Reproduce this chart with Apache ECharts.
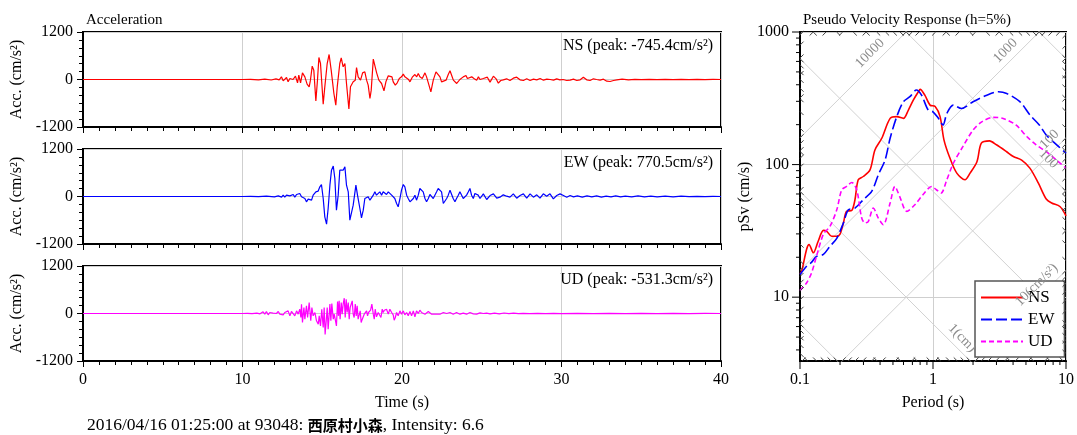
<!DOCTYPE html>
<html>
<head>
<meta charset="utf-8">
<script src="https://cdn.jsdelivr.net/npm/echarts@6/dist/echarts.min.js"></script>
<style>
html, body { margin: 0; padding: 0; background: #fff; }
#chart { width: 1077px; height: 435px; }
</style>
</head>
<body>
<div id="chart"></div>
<script>
// acceleration traces [time (s), acc (cm/s2)]
var nsAcc = [[0,0],[10,0],[10.5,5],[11,-8],[11.4,10],[11.8,-12],[12.1,15],[12.3,-10],[12.44,67],[12.55,-34],[12.76,50],[12.86,-59],[12.97,25],[13.17,0],[13.32,84],[13.45,-84],[13.53,109],[13.64,-84],[13.76,168],[13.91,67],[14.05,-118],[14.18,-185],[14.26,-17],[14.37,337],[14.47,236],[14.6,-539],[14.7,-17],[14.79,556],[14.89,404],[15.06,-623],[15.16,-185],[15.31,404],[15.43,632],[15.56,236],[15.73,-354],[15.85,-648],[15.94,-185],[16.1,404],[16.19,547],[16.31,320],[16.42,404],[16.52,-101],[16.67,-745.4],[16.77,-185],[16.94,-59],[17.07,-17],[17.15,303],[17.25,67],[17.4,-17],[17.53,168],[17.67,194],[17.78,-17],[17.88,-143],[17.99,-480],[18.07,-269],[18.2,514],[18.28,488],[18.41,168],[18.55,-17],[18.72,-101],[18.87,-286],[18.99,-59],[19.14,93],[19.24,84],[19.37,67],[19.45,-59],[19.58,-143],[19.7,-84],[19.83,25],[19.97,67],[20.08,135],[20.18,67],[20.29,25],[20.41,0],[20.5,-59],[20.66,67],[20.81,126],[20.92,67],[21.02,151],[21.12,67],[21.27,25],[21.44,168],[21.54,67],[21.69,-143],[21.81,-312],[21.96,-17],[22.13,194],[22.25,236],[22.38,67],[22.48,-59],[22.59,-101],[22.76,-17],[22.9,126],[23.01,219],[23.11,109],[23.22,-17],[23.32,-59],[23.43,-101],[23.63,0],[23.84,67],[24.01,101],[24.1,25],[24.22,-17],[24.37,67],[24.51,25],[24.68,-17],[24.79,67],[24.89,0],[25.1,25],[25.35,59],[25.52,-67],[25.73,84],[25.9,17],[26.04,-93],[26.19,-25],[26.35,-8],[26.56,17],[26.77,-25],[26.98,34],[27.19,59],[27.4,-8],[27.61,-25],[27.82,17],[28.03,-25],[28.24,8],[28.45,-8],[28.66,25],[28.87,-17],[29.08,8],[29.29,0],[29.5,-17],[29.7,17],[29.9,-8],[30.1,0],[30.33,-25],[30.54,-17],[30.75,8],[30.96,-25],[31.17,-8],[31.37,59],[31.58,-8],[31.79,-25],[32,17],[32.2,0],[32.42,-17],[32.63,8],[32.84,-42],[33.05,-50],[33.26,-25],[33.47,-8],[33.8,8],[34.2,-8],[34.6,5],[35,-5],[35.5,5],[36,-3],[36.5,4],[37,-3],[37.5,3],[38,-2],[38.5,3],[39,-2],[39.5,2],[40,0]];
var ewAcc = [[0,0],[10,0],[10.5,5],[11,-5],[11.5,8],[12,-10],[12.24,17],[12.34,34],[12.45,-17],[12.55,34],[12.65,-17],[12.76,34],[12.86,-8],[12.97,17],[13.07,-25],[13.18,51],[13.28,-17],[13.39,51],[13.49,34],[13.59,76],[13.7,-8],[13.8,8],[13.91,-51],[14.01,-135],[14.12,-67],[14.22,-51],[14.33,-93],[14.43,34],[14.49,-8],[14.6,118],[14.68,76],[14.74,135],[14.85,244],[14.95,303],[15.06,-51],[15.16,-514],[15.27,-699],[15.37,-303],[15.48,286],[15.58,665],[15.69,770.5],[15.79,455],[15.89,-345],[16,34],[16.1,665],[16.21,707],[16.31,665],[16.42,749],[16.52,286],[16.63,118],[16.73,-598],[16.84,-640],[16.94,-219],[17.11,286],[17.21,34],[17.36,-303],[17.46,-539],[17.57,-345],[17.67,-51],[17.78,-51],[17.88,-8],[17.99,-93],[18.09,-51],[18.2,34],[18.3,118],[18.4,34],[18.51,-8],[18.61,118],[18.72,34],[18.82,118],[18.93,160],[19.03,51],[19.14,118],[19.24,76],[19.35,34],[19.45,34],[19.55,-51],[19.66,-177],[19.76,-261],[19.87,-51],[19.97,160],[20.08,303],[20.18,244],[20.29,34],[20.39,-51],[20.5,-135],[20.6,-93],[20.71,-51],[20.81,34],[20.91,-93],[21.02,34],[21.12,202],[21.23,244],[21.33,118],[21.44,-51],[21.54,-135],[21.65,-51],[21.75,51],[21.86,34],[21.96,-51],[22.06,-8],[22.17,118],[22.27,202],[22.38,244],[22.48,118],[22.59,-177],[22.69,-219],[22.8,-51],[22.9,34],[23.01,160],[23.11,202],[23.21,-51],[23.32,-135],[23.42,-51],[23.53,34],[23.63,118],[23.74,76],[23.84,-51],[23.95,-93],[24.05,34],[24.16,118],[24.26,202],[24.36,34],[24.47,-51],[24.57,76],[24.68,118],[24.78,34],[24.89,-51],[25.1,67],[25.31,-76],[25.52,25],[25.73,67],[25.94,-42],[26.14,-17],[26.35,42],[26.56,8],[26.77,-17],[26.98,67],[27.19,-42],[27.4,25],[27.61,67],[27.82,-42],[28.03,67],[28.24,-17],[28.45,42],[28.65,-42],[28.86,67],[29.07,8],[29.28,67],[29.49,-59],[29.7,25],[29.91,67],[30.12,25],[30.33,-17],[30.54,25],[30.75,-8],[31,17],[31.3,-17],[31.6,17],[31.9,-8],[32.2,17],[32.5,-17],[32.8,8],[33.1,-8],[33.4,17],[33.7,-8],[34,8],[34.4,-8],[34.8,17],[35.2,-8],[35.6,8],[36,-8],[36.5,8],[37,-8],[37.5,8],[38,-5],[38.5,5],[39,-5],[39.5,5],[40,0]];
var udAcc = [[0,0],[10,0],[10.3,5],[10.6,-5],[10.9,8],[11.1,-8],[11.29,42],[11.4,-17],[11.5,51],[11.61,-34],[11.71,25],[11.82,-17],[11.92,8],[12.13,0],[12.24,51],[12.34,-17],[12.45,8],[12.55,-34],[12.65,25],[12.76,-17],[12.86,67],[12.97,-59],[13.07,51],[13.18,84],[13.28,-59],[13.39,67],[13.49,-17],[13.59,109],[13.66,-101],[13.7,236],[13.76,-227],[13.85,152],[13.91,-143],[14.01,194],[14.08,-101],[14.18,278],[14.28,-185],[14.35,152],[14.43,-59],[14.54,25],[14.64,-185],[14.75,-269],[14.81,-59],[14.89,-312],[14.97,109],[15.06,-354],[15.12,152],[15.18,-531.3],[15.25,-185],[15.31,152],[15.37,-396],[15.44,-438],[15.48,236],[15.54,-185],[15.6,253],[15.69,-143],[15.75,-17],[15.81,-143],[15.89,-312],[15.96,303],[16.02,-59],[16.06,320],[16.12,-143],[16.19,278],[16.25,-17],[16.31,236],[16.38,387],[16.44,-101],[16.5,362],[16.56,25],[16.63,278],[16.69,-143],[16.75,152],[16.82,109],[16.88,320],[16.94,-17],[17,-101],[17.07,236],[17.13,-59],[17.19,194],[17.25,-143],[17.32,-185],[17.38,67],[17.44,-227],[17.51,-143],[17.57,-185],[17.63,-17],[17.69,-59],[17.78,67],[17.84,-59],[17.9,25],[17.97,-17],[18.03,84],[18.11,236],[18.2,-17],[18.26,-143],[18.32,109],[18.4,-84],[18.51,25],[18.61,67],[18.68,-101],[18.76,109],[18.82,25],[18.89,84],[18.97,67],[19.03,109],[19.14,-17],[19.24,109],[19.35,25],[19.45,-34],[19.51,-168],[19.58,-101],[19.66,25],[19.76,-59],[19.87,67],[19.97,-17],[20.08,67],[20.18,-34],[20.29,25],[20.39,-59],[20.5,51],[20.6,-59],[20.71,67],[20.81,-84],[20.91,67],[21.02,0],[21.12,84],[21.23,25],[21.33,67],[21.44,-17],[21.54,0],[21.65,51],[21.75,67],[21.86,-17],[21.96,25],[22.06,-17],[22.17,25],[22.38,-17],[22.59,25],[22.8,0],[23.01,25],[23.21,-17],[23.42,25],[23.63,-17],[23.84,8],[24.05,-17],[24.26,25],[24.47,-8],[24.68,-17],[24.89,17],[25.1,0],[25.31,8],[25.52,-8],[25.8,10],[26.1,-8],[26.4,12],[26.7,-5],[27,8],[27.3,-5],[27.6,5],[28,-5],[28.5,5],[29,-3],[29.5,4],[30,-3],[31,3],[32,-3],[33,3],[34,-2],[35,2],[36,-2],[37,2],[38,-2],[39,2],[40,0]];

// pseudo velocity response [period (s), pSv (cm/s)]
var nsPsv = [[0.1,15],[0.103,15.7],[0.112,22.9],[0.117,24.9],[0.126,21.6],[0.137,26.4],[0.15,31.9],[0.159,31.4],[0.173,28.8],[0.189,28.8],[0.2,29.9],[0.212,36.3],[0.224,44.4],[0.245,45.1],[0.259,54.3],[0.274,76.8],[0.299,81.3],[0.336,91.2],[0.366,129],[0.412,158],[0.476,223],[0.534,230],[0.599,223],[0.653,258],[0.711,306],[0.776,354],[0.8,369],[0.868,334],[0.95,281],[1.038,274],[1.13,230],[1.21,153],[1.34,112],[1.51,86.2],[1.74,76.8],[1.9,86.2],[2.14,105],[2.31,145],[2.66,151],[3.0,141],[3.58,125],[4.02,115],[4.64,108],[5.35,94],[6.2,72.4],[7.1,55],[7.8,51.3],[9.0,48.3],[10,41]];
var ewPsv = [[0.1,14.8],[0.103,15.4],[0.112,17.1],[0.122,18.3],[0.133,20.3],[0.15,21],[0.168,24.2],[0.189,27.8],[0.212,36.3],[0.231,45.6],[0.259,47],[0.299,54.3],[0.346,62.7],[0.388,83.7],[0.436,108],[0.476,158],[0.534,230],[0.599,298],[0.67,325],[0.75,365],[0.82,334],[0.92,258],[1.0,250],[1.1,223],[1.19,199],[1.27,243],[1.42,281],[1.64,265],[2.0,298],[2.54,334],[3.1,354],[3.58,344],[4.5,298],[5.35,237],[6.3,199],[7.1,167],[8.0,149],[10,122]];
var udPsv = [[0.1,11.2],[0.103,11.6],[0.112,12.8],[0.122,15.2],[0.133,20.3],[0.15,29.9],[0.168,34.2],[0.189,45.6],[0.206,64.6],[0.224,68.4],[0.245,73.3],[0.267,64.6],[0.291,39.5],[0.308,36.3],[0.326,37.2],[0.356,47],[0.388,39.5],[0.423,35.2],[0.476,51.3],[0.517,68.4],[0.562,57.4],[0.635,44.4],[0.73,49.8],[0.84,59.2],[0.977,68.4],[1.06,64.6],[1.15,61],[1.27,76.8],[1.42,102],[1.68,137],[2.0,182],[2.34,211],[2.84,227],[3.37,223],[4.2,199],[5.07,163],[5.96,141],[7.1,125],[8.5,108],[10,94]];

// tripartite grid: acceleration lines (cm/s2) and displacement lines (cm)
var accLines = [1, 10, 100, 1000, 10000, 100000];
var dispLines = [0.01, 0.1, 1, 10, 100, 1000];
var diagLabels = [
  {text: '10000', kind: 'A', value: 10000, period: 0.382},
  {text: '1000', kind: 'A', value: 1000, period: 3.99},
  {text: '100', kind: 'A', value: 100, period: 8.55},
  {text: '10(cm/s²)', kind: 'A', value: 10, period: 6.84},
  {text: '1(cm)', kind: 'D', value: 1, period: 1.455},
  {text: '100', kind: 'D', value: 100, period: 6.49}
];

var components = ['NS', 'EW', 'UD'];
var peakLabels = ['NS (peak: -745.4cm/s²)', 'EW (peak: 770.5cm/s²)', 'UD (peak: -531.3cm/s²)'];
var traceData = [nsAcc, ewAcc, udAcc];
var psvData = [nsPsv, ewPsv, udPsv];
var colors = ['#ff0000', '#0000ff', '#ff00ff'];
var dashes = ['solid', [11, 4], [5, 3]];

var serif = 'Liberation Serif';
var panelTops = [32, 149, 266];
var periodMin = 0.1, periodMax = 10, psvMin = 3.3, psvMax = 1000;
var TWO_PI = 2 * Math.PI;

function pow10(v) { return Math.pow(10, v); }
function svOf(kind, value, t) { return kind === 'A' ? value * t / TWO_PI : TWO_PI * value / t; }
function plainNum(v) { return String(+(+v).toPrecision(3)); }

var chart = echarts.init(document.getElementById('chart'));

var grids = [], xAxes = [], yAxes = [], series = [], graphics = [];

// 加速度波形 3段
panelTops.forEach(function(top, i) {
  grids.push({left: 83, top: top, width: 638, height: 95, show: true, borderColor: '#000', borderWidth: 2, backgroundColor: '#fff'});
  xAxes.push({
    type: 'value', gridIndex: i, min: 0, max: 40, interval: 10,
    axisLine: {onZero: false, lineStyle: {color: '#000', width: 2}},
    axisTick: {show: true, length: 6, lineStyle: {color: '#000'}},
    minorTick: {show: true, splitNumber: 10, length: 4, lineStyle: {color: '#000'}},
    splitLine: {show: true, lineStyle: {color: '#cfcfcf'}},
    axisLabel: {show: i === 2, fontSize: 16, color: '#000', fontFamily: serif, margin: 11, formatter: plainNum},
    name: i === 2 ? 'Time (s)' : '', nameLocation: 'middle', nameGap: 34,
    nameTextStyle: {fontSize: 16, color: '#000', fontFamily: serif}
  });
  yAxes.push({
    type: 'value', gridIndex: i, min: -1200, max: 1200, interval: 1200,
    axisLine: {show: true, lineStyle: {color: '#000', width: 2}},
    axisTick: {show: true, length: 6, lineStyle: {color: '#000'}},
    minorTick: {show: true, splitNumber: 6, length: 4, lineStyle: {color: '#000'}},
    splitLine: {show: true, lineStyle: {color: '#cfcfcf'}},
    axisLabel: {fontSize: 16, color: '#000', fontFamily: serif, margin: 10, formatter: plainNum},
    name: 'Acc. (cm/s²)', nameLocation: 'middle', nameGap: 58, nameRotate: 90,
    nameTextStyle: {fontSize: 16, color: '#000', fontFamily: serif}
  });
  series.push({
    name: components[i] + ' acc', type: 'line', xAxisIndex: i, yAxisIndex: i,
    data: traceData[i], symbol: 'none', sampling: 'none',
    lineStyle: {color: colors[i], width: 1.2}, z: 3
  });
  graphics.push({
    type: 'text', x: 713, y: top + 14,
    style: {text: peakLabels[i], fill: '#000', font: '16px ' + serif, align: 'right', verticalAlign: 'middle'}
  });
});

// 速度応答スペクトル
grids.push({left: 800, top: 32, width: 266, height: 329, show: true, borderColor: '#000', borderWidth: 2, backgroundColor: '#fff'});
xAxes.push({
  type: 'log', logBase: 10, gridIndex: 3, min: periodMin, max: periodMax,
  axisLine: {onZero: false, lineStyle: {color: '#000', width: 2}},
  axisTick: {show: false},
  splitLine: {show: true, lineStyle: {color: '#cfcfcf'}},
  axisLabel: {fontSize: 16, color: '#000', fontFamily: serif, margin: 11, formatter: plainNum},
  name: 'Period (s)', nameLocation: 'middle', nameGap: 34,
  nameTextStyle: {fontSize: 16, color: '#000', fontFamily: serif}
});
yAxes.push({
  type: 'log', logBase: 10, gridIndex: 3, min: psvMin, max: psvMax,
  axisLine: {show: true, onZero: false, lineStyle: {color: '#000', width: 2}},
  axisTick: {show: false},
  splitLine: {show: true, lineStyle: {color: '#cfcfcf'}},
  axisLabel: {fontSize: 16, color: '#000', fontFamily: serif, margin: 11, showMinLabel: false, formatter: plainNum},
  name: 'pSv (cm/s)', nameLocation: 'middle', nameGap: 46, nameRotate: 90,
  nameTextStyle: {fontSize: 16, color: '#000', fontFamily: serif}
});

// 斜めの補助線
function diagSeries(kind, value) {
  return {
    type: 'line', xAxisIndex: 3, yAxisIndex: 3, symbol: 'none', silent: true, z: 1,
    data: [[periodMin, svOf(kind, value, periodMin)], [periodMax, svOf(kind, value, periodMax)]],
    lineStyle: {color: '#d2d2d2', width: 1}
  };
}
accLines.forEach(function(a) { series.push(diagSeries('A', a)); });
dispLines.forEach(function(d) { series.push(diagSeries('D', d)); });

// 枠の斜めハッチ
var hatch = [];
var xLo = Math.log10(periodMin), xHi = Math.log10(periodMax), yLo = Math.log10(psvMin), yHi = Math.log10(psvMax), step = 0.04;
function addHatch(s, c) {
  var y, x;
  y = c + s * xLo; if (y > yLo && y < yHi) hatch.push([pow10(xLo), pow10(y), pow10(xLo + step), pow10(y + s * step)]);
  y = c + s * xHi; if (y > yLo && y < yHi) hatch.push([pow10(xHi), pow10(y), pow10(xHi - step), pow10(y - s * step)]);
  x = (yLo - c) / s; if (x > xLo && x < xHi) hatch.push([pow10(x), pow10(yLo), pow10(x + step / s), pow10(yLo + step)]);
  x = (yHi - c) / s; if (x > xLo && x < xHi) hatch.push([pow10(x), pow10(yHi), pow10(x - step / s), pow10(yHi - step)]);
}
for (var n = -3; n <= 5; n++) {
  for (var k = 1; k <= 9; k++) {
    var v = k * Math.pow(10, n);
    addHatch(1, Math.log10(v / TWO_PI));
    addHatch(-1, Math.log10(TWO_PI * v));
  }
}
series.push({
  type: 'custom', xAxisIndex: 3, yAxisIndex: 3, silent: true, z: 4, data: hatch,
  renderItem: function(params, api) {
    var p = api.coord([api.value(0), api.value(1)]);
    var q = api.coord([api.value(2), api.value(3)]);
    var dx = q[0] - p[0], dy = q[1] - p[1], d = Math.sqrt(dx * dx + dy * dy) || 1;
    return {type: 'line', shape: {x1: p[0], y1: p[1], x2: p[0] + dx / d * 5, y2: p[1] + dy / d * 5}, style: {stroke: '#444', lineWidth: 1}};
  }
});

// 対数軸の目盛り
var logTicks = [];
[1, 10, 100].forEach(function(dec) {
  for (var k = 1; k <= 9; k++) {
    var v = k * dec;
    if (v >= psvMin && v <= psvMax) logTicks.push([periodMin, v, k === 1 ? -8 : -4, 0]);
  }
});
logTicks.push([periodMin, psvMax, -8, 0]);
[0.1, 1].forEach(function(dec) {
  for (var k = 1; k <= 9; k++) logTicks.push([k * dec, psvMin, 0, k === 1 ? 8 : 4]);
});
logTicks.push([periodMax, psvMin, 0, 8]);
series.push({
  type: 'custom', xAxisIndex: 3, yAxisIndex: 3, silent: true, z: 4, data: logTicks,
  renderItem: function(params, api) {
    var p = api.coord([api.value(0), api.value(1)]);
    return {type: 'line', shape: {x1: p[0], y1: p[1], x2: p[0] + api.value(2), y2: p[1] + api.value(3)}, style: {stroke: '#000', lineWidth: 1}};
  }
});

// 補助線ラベル (凡例の上に重なる)
series.push({
  type: 'custom', xAxisIndex: 3, yAxisIndex: 3, silent: true, z: 6,
  data: diagLabels.map(function(l) { return [l.period, svOf(l.kind, l.value, l.period)]; }),
  renderItem: function(params, api) {
    var l = diagLabels[params.dataIndex];
    var p = api.coord([api.value(0), api.value(1)]);
    var off = 10.5 / Math.SQRT2;
    var isA = l.kind === 'A';
    return {
      type: 'text', x: p[0] + (isA ? -off : off), y: p[1] - off,
      rotation: isA ? Math.PI / 4 : -Math.PI / 4,
      style: {text: l.text, fill: '#8c8c8c', font: '14px ' + serif, align: 'center', verticalAlign: 'middle'}
    };
  }
});

// スペクトル
components.forEach(function(c, i) {
  series.push({
    name: c, type: 'line', xAxisIndex: 3, yAxisIndex: 3, data: psvData[i],
    symbol: 'none', smooth: 0.3, z: 3,
    lineStyle: {color: colors[i], width: 1.6, type: dashes[i]},
    itemStyle: {color: colors[i]}
  });
});

graphics.push({
  type: 'text', x: 87, y: 425,
  style: {
    text: '{a|2016/04/16 01:25:00 at 93048: }{b|西原村小森}{a|, Intensity: 6.6}',
    verticalAlign: 'middle',
    rich: {
      a: {fontFamily: serif, fontSize: 17.5, fill: '#000'},
      b: {fontFamily: 'Noto Sans CJK JP', fontSize: 15, fontWeight: 'bold', fill: '#000'}
    }
  }
});

var option = {
  animation: false,
  backgroundColor: '#fff',
  textStyle: {fontFamily: serif, color: '#000'},
  title: [
    {text: 'Acceleration', left: 86, top: 13, padding: 0, textStyle: {fontSize: 15, fontWeight: 'normal', fontFamily: serif, color: '#000'}},
    {text: 'Pseudo Velocity Response (h=5%)', left: 803, top: 13, padding: 0, textStyle: {fontSize: 15, fontWeight: 'normal', fontFamily: serif, color: '#000'}}
  ],
  legend: {
    data: components, orient: 'vertical', left: 975, top: 281,
    itemWidth: 42, itemHeight: 14, itemGap: 5, padding: [8, 10, 7, 5],
    backgroundColor: '#fff', borderColor: '#555', borderWidth: 1.5,
    itemStyle: {opacity: 0},
    textStyle: {fontFamily: serif, fontSize: 17, color: '#000'}
  },
  grid: grids,
  xAxis: xAxes,
  yAxis: yAxes,
  graphic: graphics,
  series: series
};
chart.setOption(option);
</script>
</body>
</html>
